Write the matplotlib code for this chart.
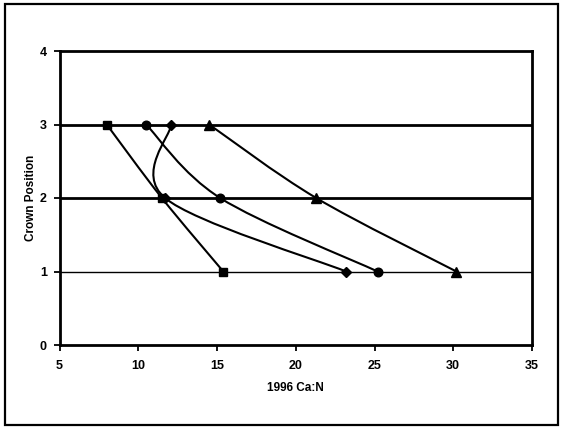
import matplotlib
matplotlib.use("Agg")
import matplotlib.pyplot as plt
from matplotlib.path import Path
from matplotlib.patches import PathPatch, Rectangle
import numpy as np

plt.rcParams['font.family'] = ['Liberation Sans', 'DejaVu Sans']

crown_position = [1, 2, 3]
ca_n_squares = [15.4, 11.5, 8.0]
ca_n_diamonds = [23.2, 11.7, 12.1]
ca_n_circles = [25.2, 15.2, 10.5]
ca_n_triangles = [30.2, 21.3, 14.5]

x_ticks = [5, 10, 15, 20, 25, 30, 35]
y_ticks = [0, 1, 2, 3, 4]

series = [
    (ca_n_squares, 's', 6.4),
    (ca_n_diamonds, 'D', 5.0),
    (ca_n_circles, 'o', 6.2),
    (ca_n_triangles, '^', 6.6),
]

W, H = 564, 429
fig = plt.figure(figsize=(W / 100, H / 100), dpi=100)
ax = fig.add_axes([59.5 / W, 1 - 345 / H, (532 - 59.5) / W, (345 - 51) / H])


def smooth_path(xs, ys):
    """Cubic Bezier through the points, like a spreadsheet's smoothed line."""
    pts = np.column_stack([xs, ys]).astype(float)
    n = len(pts)
    verts = [pts[0]]
    codes = [Path.MOVETO]
    for i in range(n - 1):
        p0 = pts[i - 1] if i > 0 else pts[i]
        p1 = pts[i]
        p2 = pts[i + 1]
        p3 = pts[i + 2] if i + 2 < n else pts[i + 1]
        c1 = p1 + (p2 - p0) / 6.0
        c2 = p2 - (p3 - p1) / 6.0
        verts += [c1, c2, p2]
        codes += [Path.CURVE4] * 3
    return Path(verts, codes)


# horizontal gridlines
ax.axhline(1, color='black', lw=1.0, zorder=1)
ax.axhline(2, color='black', lw=2.0, zorder=1)
ax.axhline(3, color='black', lw=2.0, zorder=1)

for xs, marker, ms in series:
    patch = PathPatch(smooth_path(xs, crown_position), facecolor='none',
                      edgecolor='black', lw=1.5, zorder=2)
    ax.add_patch(patch)
    ax.plot(xs, crown_position, linestyle='none', marker=marker,
            markersize=ms, color='black', zorder=3)

ax.set_xlim(5, 35)
ax.set_ylim(0, 4)
ax.set_xticks(x_ticks)
ax.set_yticks(y_ticks)
ax.tick_params(direction='out', length=4, width=1.3, labelsize=9)
ax.tick_params(axis='x', pad=7)
ax.tick_params(axis='y', pad=5)
for lbl in ax.get_xticklabels() + ax.get_yticklabels():
    lbl.set_fontweight('bold')
for sp in ax.spines.values():
    sp.set_linewidth(2.0)

ax.set_xlabel('1996 Ca:N', fontsize=8.5, fontweight='bold', labelpad=7)
ax.set_ylabel('Crown Position', fontsize=8.5, fontweight='bold', labelpad=2)

# outer frame around the whole chart
fig.patches.append(Rectangle((5 / W, 4 / H), 553 / W, 421 / H,
                             transform=fig.transFigure, fill=False,
                             edgecolor='black', lw=1.6))

fig.savefig('out.png', dpi=100)
